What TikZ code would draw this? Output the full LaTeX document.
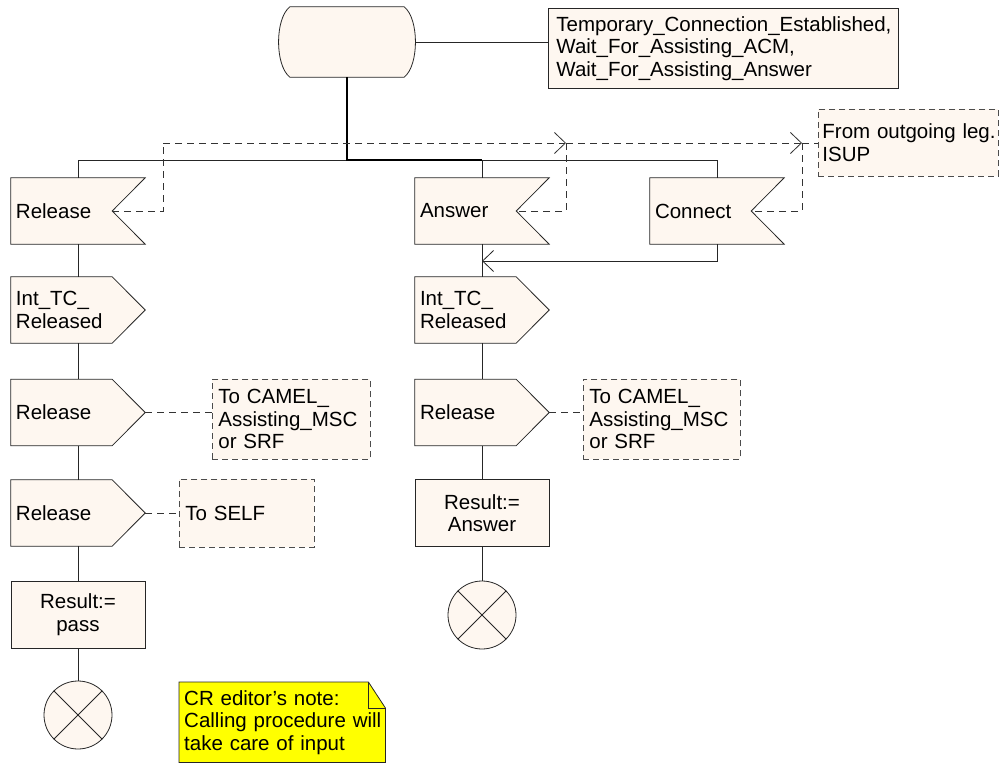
\documentclass[tikz,border=0pt]{standalone}
\usepackage{fontspec}
\setmainfont{Liberation Sans}
\usetikzlibrary{calc,arrows.meta,backgrounds}
\definecolor{sdlfill}{RGB}{254,247,240}
\definecolor{notefill}{RGB}{255,255,0}

% SDL symbol outlines drawn around plain (invisible) rectangle nodes
\newcommand{\sdlinput}[1]{\draw[outline] (#1.north west) -- (#1.north east) -- ($(#1.east)+(-33,0)$) -- (#1.south east) -- (#1.south west) -- cycle;}
\newcommand{\sdloutput}[1]{\draw[outline] (#1.north west) -- ($(#1.north east)+(-33,0)$) -- (#1.east) -- ($(#1.south east)+(-33,0)$) -- (#1.south west) -- cycle;}

\begin{document}
\begin{tikzpicture}[x=1pt,y=-1pt,
  font=\fontsize{20.5}{22.5}\selectfont,
  flow/.style={line width=0.8pt, draw=black!85},
  boldflow/.style={line width=1.8pt, draw=black},
  outline/.style={line width=0.8pt, draw=black!85, fill=sdlfill},
  sig/.style={rectangle, minimum width=134pt, minimum height=66pt, inner xsep=5pt, inner ysep=0pt, text width=124pt, align=left},
  task/.style={rectangle, draw=black!85, line width=0.8pt, fill=sdlfill, minimum width=134pt, minimum height=67pt, inner sep=0pt, align=center},
  cmt/.style={rectangle, draw=black!70, dash pattern=on 6pt off 4pt, line width=0.8pt, fill=sdlfill, inner xsep=6pt, inner ysep=0pt, align=left, anchor=north west},
  dline/.style={line width=0.8pt, draw=black!80, dash pattern=on 7pt off 5pt},
  barb/.style={-{Straight Barb[length=11pt,width=21pt]}},
  stopc/.style={circle, draw=black!85, line width=0.8pt, fill=sdlfill, minimum size=68pt, inner sep=0pt},
]
\useasboundingbox (0,0) rectangle (1000,765);

% start state and its state list
\node[minimum width=136pt, minimum height=70pt, inner sep=0pt] (st) at (347,42) {};
\node[rectangle, draw=black!85, line width=0.8pt, fill=sdlfill, anchor=north west,
      minimum width=350pt, minimum height=80pt, inner xsep=8pt, inner ysep=0pt,
      text width=334pt, align=left] (states) at (548,8)
  {Temporary\_Connection\_Established,\\Wait\_For\_Assisting\_ACM,\\Wait\_For\_Assisting\_Answer};

% left branch
\node[sig] (relin) at (78,211) {Release};
\node[sig] (tcrel1) at (78,310) {Int\_TC\_\\Released};
\node[sig] (relout1) at (78,412.5) {Release};
\node[sig] (relout2) at (78,513) {Release};
\node[task] (pass) at (78,614.5) {Result:=\\pass};
\node[stopc] (stop1) at (78,715) {};

% middle branch
\node[sig] (ansin) at (482,211) {Answer};
\node[sig] (tcrel2) at (482,310) {Int\_TC\_\\Released};
\node[sig] (relout3) at (482,412.5) {Release};
\node[task] (ansres) at (482,513) {Result:=\\Answer};
\node[stopc] (stop2) at (482,615) {};

% connect input
\node[sig] (con) at (717,211) {Connect};

% comments
\node[cmt, minimum width=158pt, minimum height=80pt, text width=146pt] (c1) at (212,379) {\mbox{To CAMEL\_}\\Assisting\_MSC\\\mbox{or SRF}};
\node[cmt, minimum width=135pt, minimum height=68pt, text width=123pt] (c2) at (179,479) {\mbox{To SELF}};
\node[cmt, minimum width=157pt, minimum height=80pt, text width=145pt] (c3) at (583,379) {\mbox{To CAMEL\_}\\Assisting\_MSC\\\mbox{or SRF}};
\node[cmt, minimum width=180pt, minimum height=67pt, inner xsep=4pt, text width=172pt] (fromleg) at (818,109) {\mbox{From outgoing leg.}\\ISUP};

% editor's note
\node[anchor=north west, minimum width=206pt, minimum height=80pt, inner xsep=5pt, inner ysep=0pt,
      text width=196pt, align=left] (note) at (179,682)
  {\mbox{CR editor's note:}\\\mbox{Calling procedure will}\\\mbox{take care of input}};

\begin{pgfonlayer}{background}
  \draw[outline] ($(st.north west)+(11,0)$) -- ($(st.north east)+(-11,0)$)
    .. controls ($(st.north east)+(4,12)$) and ($(st.south east)+(4,-12)$) .. ($(st.south east)+(-11,0)$)
    -- ($(st.south west)+(11,0)$)
    .. controls ($(st.south west)+(-4,-12)$) and ($(st.north west)+(-4,12)$) .. ($(st.north west)+(11,0)$) -- cycle;
  \sdlinput{relin}
  \sdlinput{ansin}
  \sdlinput{con}
  \sdloutput{tcrel1}
  \sdloutput{relout1}
  \sdloutput{relout2}
  \sdloutput{tcrel2}
  \sdloutput{relout3}
  \draw[line width=0.8pt, draw=black!85, fill=notefill] (note.north west) -- ($(note.north east)+(-17,0)$)
    -- ($(note.north east)+(0,26)$) -- (note.south east) -- (note.south west) -- cycle;
  \draw[line width=0.8pt, draw=black!85] ($(note.north east)+(-17,0)$) |- ($(note.north east)+(0,26)$);
\end{pgfonlayer}

% crosses of the stop symbols
\draw[flow] (stop1.north west) -- (stop1.south east);
\draw[flow] (stop1.north east) -- (stop1.south west);
\draw[flow] (stop2.north west) -- (stop2.south east);
\draw[flow] (stop2.north east) -- (stop2.south west);

% flow lines
\coordinate (bus) at (347,160);
\coordinate (merge) at (482,261);
\draw[flow] (st.east) -- (st.east -| states.west);
\draw[flow] (relin.north) -- (relin.north |- bus) -- (con.north |- bus) -- (con.north);
\draw[flow] (ansin.north |- bus) -- (ansin.north);
\draw[boldflow] (st.south) -- (bus) -- (ansin.north |- bus);

\draw[flow] (relin.south) -- (tcrel1.north);
\draw[flow] (tcrel1.south) -- (relout1.north);
\draw[flow] (relout1.south) -- (relout2.north);
\draw[flow] (relout2.south) -- (pass.north);
\draw[flow] (pass.south) -- (stop1.north);

\draw[flow] (ansin.south) -- (tcrel2.north);
\draw[flow] (tcrel2.south) -- (relout3.north);
\draw[flow] (relout3.south) -- (ansres.north);
\draw[flow] (ansres.south) -- (stop2.north);

\draw[flow, barb] (con.south) |- (merge);

% signal lines from the outgoing leg
\coordinate (relin-n) at ($(relin.east)+(-33,0)$);
\coordinate (ansin-n) at ($(ansin.east)+(-33,0)$);
\coordinate (con-n) at ($(con.east)+(-33,0)$);
\coordinate (dk) at (163,143);
\coordinate (j1) at (566,143);
\coordinate (j2) at (802,143);
\draw[dline] (relin-n) -| (dk);
\draw[dline, barb] (dk) -- (j1);
\draw[dline, barb] (j1) -- (j2);
\draw[dline] (j2) -- (fromleg.west |- j2);
\draw[dline] (j1) |- (ansin-n);
\draw[dline] (j2) |- (con-n);

% comment links
\draw[dline] (relout1.east) -- (c1.west |- relout1.east);
\draw[dline] (relout2.east) -- (c2.west |- relout2.east);
\draw[dline] (relout3.east) -- (c3.west |- relout3.east);
\end{tikzpicture}
\end{document}
